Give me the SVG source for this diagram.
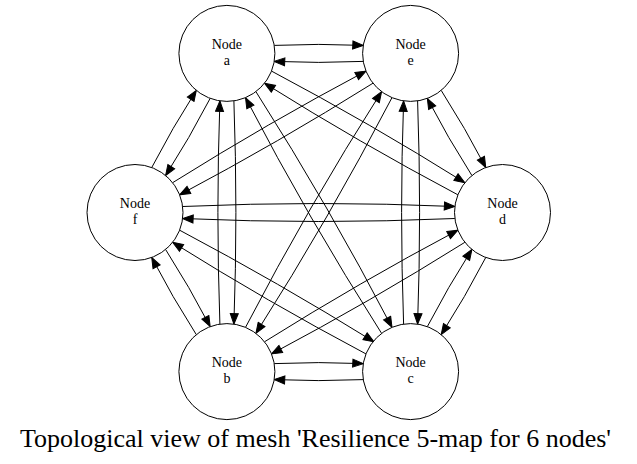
<svg xmlns="http://www.w3.org/2000/svg" width="637" height="464" viewBox="0 0 637 464">
<style>
.node circle{fill:#fff;stroke:#000;stroke-width:1}
.node text{font-family:"Liberation Serif","Times New Roman",serif;font-size:14px;text-anchor:middle;fill:#000}
.edges path{fill:none;stroke:#000;stroke-width:1;marker-end:url(#arr)}
.title{font-family:"Liberation Serif","Times New Roman",serif;font-size:26px;text-anchor:middle;fill:#000}
</style>
<defs>
<marker id="arr" markerUnits="userSpaceOnUse" viewBox="-1 -5 13 10" markerWidth="13" markerHeight="10" refX="10.5" refY="0" orient="auto">
<polygon points="0,-4 10.5,0 0,4" fill="#000" stroke="#000" stroke-width="1"/>
</marker>
</defs>
<rect width="637" height="464" fill="#fff"/>
<g class="edges">
<path d="M274.23,45.4 Q318.75,43.4 363.27,45.4"/>
<path d="M363.27,61.4 Q318.75,63.4 274.23,61.4"/>
<path d="M441.2,90.39 Q465.21,127.95 485.76,167.51"/>
<path d="M471.9,175.51 Q447.89,137.95 427.34,98.39"/>
<path d="M485.76,257.49 Q465.21,297.05 441.2,334.61"/>
<path d="M427.34,326.61 Q447.89,287.05 471.9,249.49"/>
<path d="M363.27,379.6 Q318.75,381.6 274.23,379.6"/>
<path d="M274.23,363.6 Q318.75,361.6 363.27,363.6"/>
<path d="M196.3,334.61 Q172.29,297.05 151.74,257.49"/>
<path d="M165.6,249.49 Q189.61,287.05 210.16,326.61"/>
<path d="M151.74,167.51 Q172.29,127.95 196.3,90.39"/>
<path d="M210.16,98.39 Q189.61,137.95 165.6,175.51"/>
<path d="M271.53,71.09 Q370.2,123.42 464.87,182.69"/>
<path d="M457.87,194.81 Q359.2,142.48 264.53,83.21"/>
<path d="M417.6,100.89 Q421.6,212.5 417.6,324.11"/>
<path d="M403.6,324.11 Q399.6,212.5 403.6,100.89"/>
<path d="M464.87,242.31 Q370.2,301.58 271.53,353.91"/>
<path d="M264.53,341.79 Q359.2,282.52 457.87,230.19"/>
<path d="M365.97,353.91 Q267.3,301.58 172.63,242.31"/>
<path d="M179.63,230.19 Q278.3,282.52 373.97,341.79"/>
<path d="M219.9,324.11 Q215.9,212.5 219.9,100.89"/>
<path d="M233.9,100.89 Q237.9,212.5 233.9,324.11"/>
<path d="M172.63,182.69 Q267.3,123.42 365.97,71.09"/>
<path d="M372.97,83.21 Q278.3,142.48 179.63,194.81"/>
<path d="M255.92,91.65 Q329.14,206.5 391.98,327.35"/>
<path d="M381.58,333.35 Q308.36,218.5 245.52,97.65"/>
<path d="M391.98,97.65 Q329.14,218.5 255.92,333.35"/>
<path d="M245.52,327.35 Q308.36,206.5 381.58,91.65"/>
<path d="M182.63,206.5 Q318.75,200.5 454.87,206.5"/>
<path d="M454.87,218.5 Q318.75,224.5 182.63,218.5"/>
</g>
<g id="node-a" class="node"><circle cx="226.9" cy="53.4" r="48"/><text x="226.9" y="49">Node</text><text x="226.9" y="64.5">a</text></g>
<g id="node-e" class="node"><circle cx="410.6" cy="53.4" r="48"/><text x="410.6" y="49">Node</text><text x="410.6" y="64.5">e</text></g>
<g id="node-d" class="node"><circle cx="502.5" cy="212.5" r="48"/><text x="502.5" y="208">Node</text><text x="502.5" y="223.5">d</text></g>
<g id="node-c" class="node"><circle cx="410.6" cy="371.6" r="48"/><text x="410.6" y="367">Node</text><text x="410.6" y="382.5">c</text></g>
<g id="node-b" class="node"><circle cx="226.9" cy="371.6" r="48"/><text x="226.9" y="367">Node</text><text x="226.9" y="382.5">b</text></g>
<g id="node-f" class="node"><circle cx="135" cy="212.5" r="48"/><text x="135" y="208">Node</text><text x="135" y="223.5">f</text></g>
<text class="title" x="315.5" y="447">Topological view of mesh 'Resilience 5-map for 6 nodes'</text>
</svg>
